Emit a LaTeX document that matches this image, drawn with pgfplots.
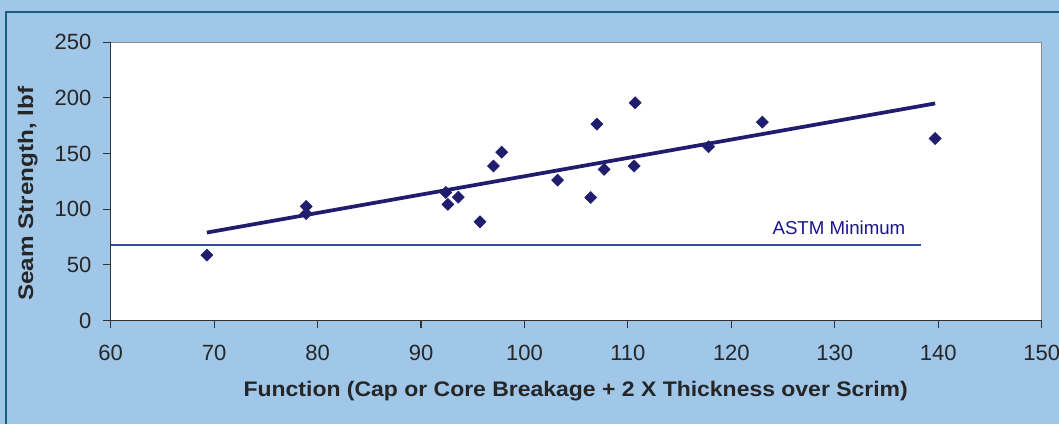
\documentclass[border=0pt]{standalone}
\usepackage{pgfplots}
\pgfplotsset{compat=1.18}
\usepackage{fontspec}
\setmainfont{Liberation Sans}
\definecolor{bgblue}{RGB}{160,198,232}
\definecolor{frameblue}{RGB}{26,94,128}
\definecolor{navy}{RGB}{32,28,110}
\definecolor{astm}{RGB}{50,80,160}
\begin{document}
\begin{tikzpicture}[x=0.75pt,y=0.75pt]
\useasboundingbox (0,0) rectangle (1059,424);
\clip (-30,-30) rectangle (1090,450);
\fill[bgblue] (-30,-30) rectangle (1090,450);
\draw[frameblue,line width=1.8pt] (6,-30) -- (6,412) -- (1090,412);
\begin{axis}[
  at={(107,93)}, anchor=south west,
  scale only axis,
  width=698.25pt, height=208.7pt,
  xmin=60, xmax=150, ymin=0, ymax=250,
  xtick={60,70,...,150}, ytick={0,50,...,250},
  tick align=outside, xtick pos=bottom, ytick pos=left,
  major tick length=6pt,
  tick style={black!80, line width=0.8pt},
  axis line style={gray!90, line width=0.9pt},
  axis background/.style={fill=white},
  /pgf/number format/assume math mode=true,
  ticklabel style={font=\fontsize{16.5}{18}\selectfont, text=black!85},
  xticklabel style={yshift=-9pt},
  yticklabel style={xshift=-5pt},
  every axis y label/.style={at={(axis description cs:-0.089,0.455)}, rotate=90, xscale=1.15, anchor=center, font=\fontsize{15.8}{18}\selectfont\bfseries, text=black!85},
  every axis x label/.style={at={(axis description cs:0.4995,-0.255)}, xscale=1.09, anchor=center, font=\fontsize{15.8}{18}\selectfont\bfseries, text=black!85},
  xlabel={Function (Cap or Core Breakage + 2 X Thickness over Scrim)},
  ylabel={Seam Strength, lbf},
  clip=false,
]
\draw[black!80, line width=0.9pt] (rel axis cs:0,1) -- (rel axis cs:0,0) -- (rel axis cs:1,0);
\addplot[astm, line width=1.4pt, no marks] coordinates {(60,67.5) (138.3,67.5)};
\addplot[navy, line width=2.8pt, no marks] coordinates {(69.3,79) (139.7,195)};
\addplot[only marks, mark=square*, mark size=3.2pt, mark options={rotate=45, fill=navy, draw=navy}] coordinates {
(69.3,58.7)
(78.9,102.5)
(78.9,96)
(92.4,115)
(92.6,104.3)
(93.6,110.8)
(95.7,88.7)
(97.0,138.8)
(97.8,151.2)
(103.2,126.1)
(106.4,110.5)
(107.0,176.4)
(107.7,135.7)
(110.6,138.8)
(110.7,195.6)
(117.8,156.1)
(123.0,178.2)
(139.7,163.5)
};
\node[text=navy!80!blue, font=\fontsize{14}{16}\selectfont] at (axis cs:130.4,83.6) {ASTM Minimum};
\end{axis}
\end{tikzpicture}
\end{document}
